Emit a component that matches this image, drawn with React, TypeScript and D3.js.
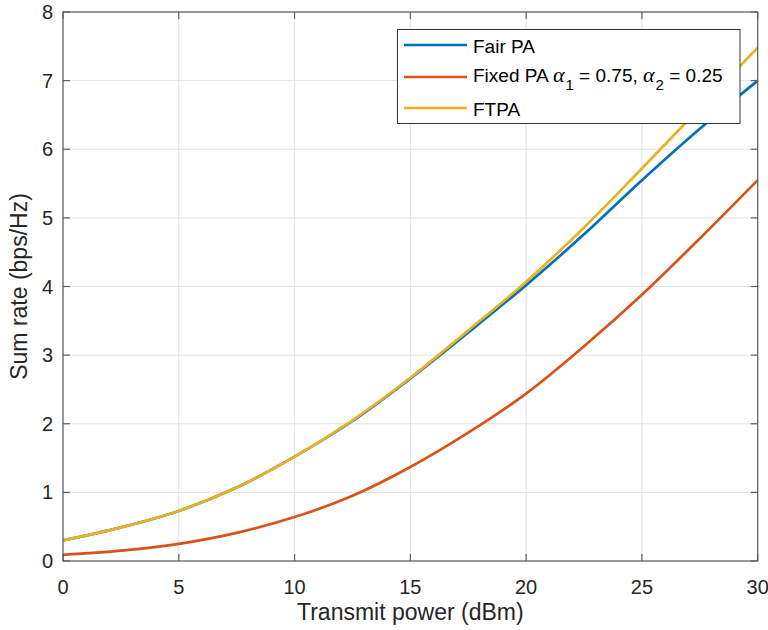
import React from "react";
import * as d3 from "d3";

const powerDbm = [0, 2.5, 5, 7.5, 10, 12.5, 15, 17.5, 20, 22.5, 25, 27.5, 30];
const fairPA = [0.3, 0.49, 0.73, 1.07, 1.52, 2.04, 2.66, 3.33, 4.02, 4.76, 5.55, 6.3, 7.0];
const fixedPA = [0.09, 0.15, 0.25, 0.41, 0.64, 0.95, 1.37, 1.87, 2.44, 3.13, 3.88, 4.7, 5.55];
const ftpa = [0.3, 0.49, 0.73, 1.07, 1.52, 2.05, 2.67, 3.36, 4.07, 4.86, 5.72, 6.6, 7.48];
const xTicks = [0, 5, 10, 15, 20, 25, 30];
const yTicks = [0, 1, 2, 3, 4, 5, 6, 7, 8];

const W = 768, H = 630;
const L = 63, R = 757.7, T = 12, B = 561;
const FONT = "'Liberation Sans', Arial, Helvetica, sans-serif";
const GREEK = "'Liberation Serif', 'DejaVu Serif', serif";

export default function App() {
  const x = d3.scaleLinear().domain([0, 30]).range([L, R]);
  const y = d3.scaleLinear().domain([0, 8]).range([B, T]);
  const line = d3
    .line<number>()
    .x((_, i) => x(powerDbm[i]))
    .y((d) => y(d))
    .curve(d3.curveCatmullRom.alpha(0.5));

  const series = [
    { name: "fair", data: fairPA, color: "#0072BD" },
    { name: "fixed", data: fixedPA, color: "#D95319" },
    { name: "ftpa", data: ftpa, color: "#EDB120" },
  ];
  const axisColor = "#5e5e5e";
  const textColor = "#262626";
  const tick = 7;

  const legX = 397.5, legY = 29.5, legW = 342.5, legH = 94;
  const rows = [45, 77, 108];

  return (
    <svg width={W} height={H} style={{ position: "absolute", left: 0, top: 0, background: "#fff" }} fontFamily={FONT}>
      <rect x={0} y={0} width={W} height={H} fill="#fff" />
      {xTicks.map((t) => (
        <line key={"gx" + t} x1={x(t)} x2={x(t)} y1={T} y2={B} stroke="#e3e3e3" strokeWidth={1} />
      ))}
      {yTicks.map((t) => (
        <line key={"gy" + t} x1={L} x2={R} y1={y(t)} y2={y(t)} stroke="#e3e3e3" strokeWidth={1} />
      ))}
      {series.map((s) => (
        <path key={s.name} d={line(s.data) || ""} fill="none" stroke={s.color} strokeWidth={2.7} />
      ))}
      <rect x={L} y={T} width={R - L} height={B - T} fill="none" stroke={axisColor} strokeWidth={1.2} />
      {xTicks.map((t) => (
        <g key={"tx" + t}>
          <line x1={x(t)} x2={x(t)} y1={B} y2={B - tick} stroke={axisColor} strokeWidth={1.2} />
          <line x1={x(t)} x2={x(t)} y1={T} y2={T + tick} stroke={axisColor} strokeWidth={1.2} />
          <text x={x(t)} y={594} textAnchor="middle" fontSize={20} fill={textColor}>
            {t}
          </text>
        </g>
      ))}
      {yTicks.map((t) => (
        <g key={"ty" + t}>
          <line x1={L} x2={L + tick} y1={y(t)} y2={y(t)} stroke={axisColor} strokeWidth={1.2} />
          <line x1={R} x2={R - tick} y1={y(t)} y2={y(t)} stroke={axisColor} strokeWidth={1.2} />
          <text x={53} y={y(t) + 7} textAnchor="end" fontSize={20} fill={textColor}>
            {t}
          </text>
        </g>
      ))}
      <text x={(L + R) / 2} y={620} textAnchor="middle" fontSize={23} fill={textColor}>
        Transmit power (dBm)
      </text>
      <text transform={`translate(27, ${(T + B) / 2}) rotate(-90)`} textAnchor="middle" fontSize={23} fill={textColor}>
        Sum rate (bps/Hz)
      </text>
      <rect x={legX} y={legY} width={legW} height={legH} fill="#fff" stroke="#333" strokeWidth={1} />
      {series.map((s, i) => (
        <line key={"ll" + i} x1={404} x2={467} y1={rows[i]} y2={rows[i]} stroke={s.color} strokeWidth={2.7} />
      ))}
      <text x={473} y={rows[0] + 8} fontSize={19} fill="#000">Fair PA</text>
      <text x={473} y={rows[1] + 5} fontSize={19} fill="#000">
        Fixed PA{"  "}
        <tspan fontFamily={GREEK} fontStyle="italic" fontSize={22}>α</tspan>
        <tspan fontSize={15} dy={8} dx={1}>1</tspan>
        <tspan dy={-8}>{" = 0.75, "}</tspan>
        <tspan fontFamily={GREEK} fontStyle="italic" fontSize={22}>α</tspan>
        <tspan fontSize={15} dy={8} dx={1}>2</tspan>
        <tspan dy={-8}>{" = 0.25"}</tspan>
      </text>
      <text x={473} y={rows[2] + 8} fontSize={19} fill="#000">FTPA</text>
    </svg>
  );
}
